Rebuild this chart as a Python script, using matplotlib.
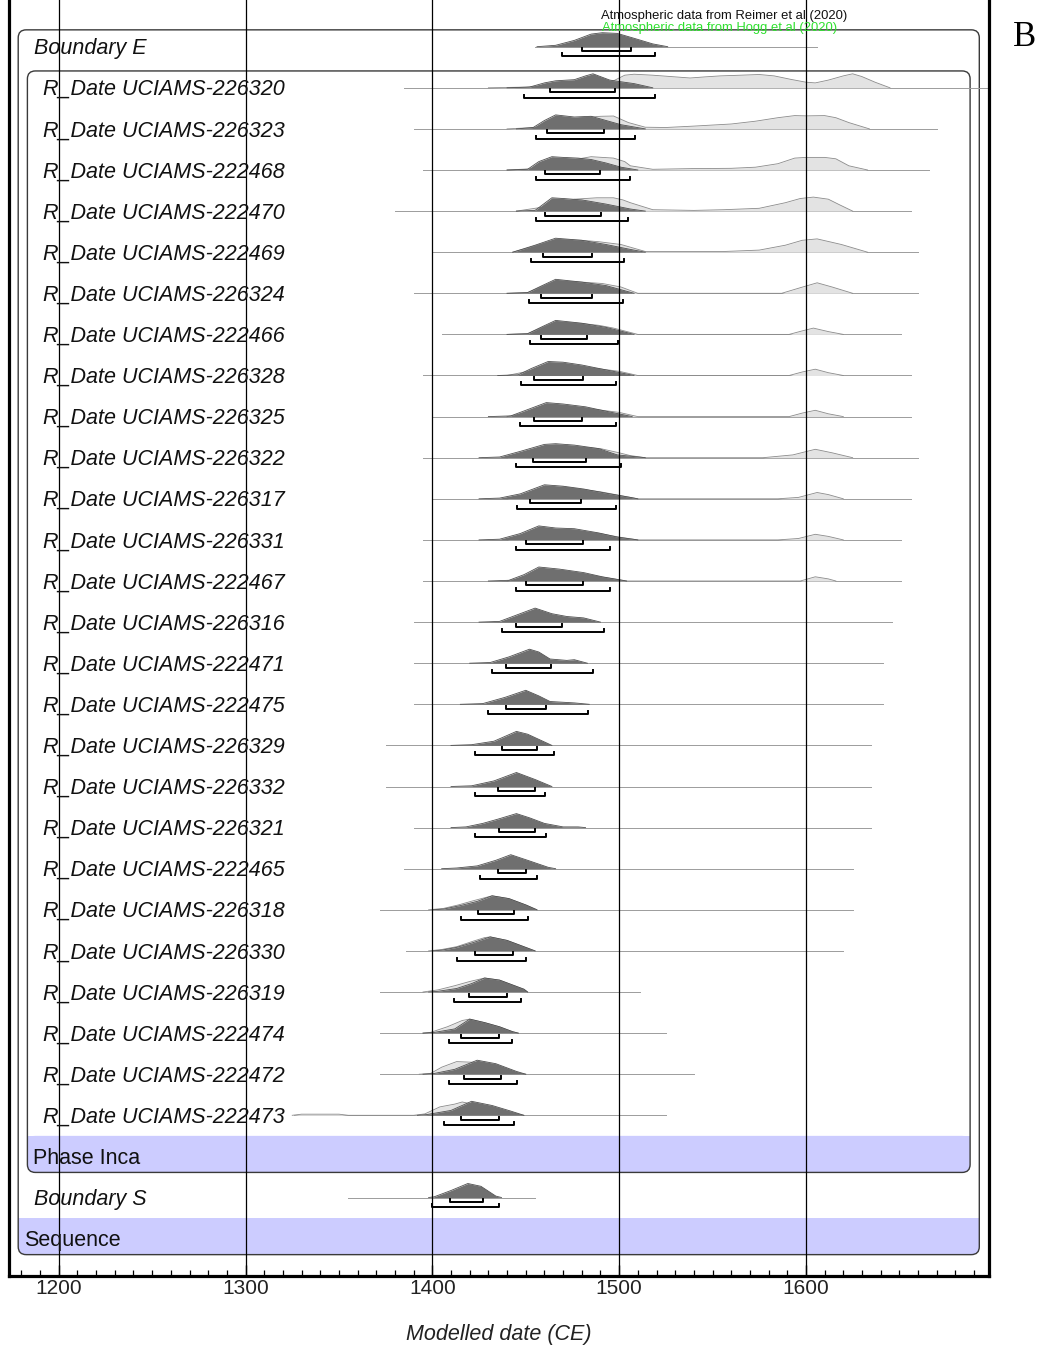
import numpy as np
import matplotlib
matplotlib.use("Agg")
import matplotlib.pyplot as plt
from matplotlib.patches import FancyBboxPatch, Rectangle
from matplotlib.ticker import MultipleLocator

plt.rcParams['font.family'] = ['Liberation Sans', 'DejaVu Sans']

# rows from top to bottom
labels = ["Boundary E",
          "R_Date UCIAMS-226320", "R_Date UCIAMS-226323", "R_Date UCIAMS-222468",
          "R_Date UCIAMS-222470", "R_Date UCIAMS-222469", "R_Date UCIAMS-226324",
          "R_Date UCIAMS-222466", "R_Date UCIAMS-226328", "R_Date UCIAMS-226325",
          "R_Date UCIAMS-226322", "R_Date UCIAMS-226317", "R_Date UCIAMS-226331",
          "R_Date UCIAMS-222467", "R_Date UCIAMS-226316", "R_Date UCIAMS-222471",
          "R_Date UCIAMS-222475", "R_Date UCIAMS-226329", "R_Date UCIAMS-226332",
          "R_Date UCIAMS-226321", "R_Date UCIAMS-222465", "R_Date UCIAMS-226318",
          "R_Date UCIAMS-226330", "R_Date UCIAMS-226319", "R_Date UCIAMS-222474",
          "R_Date UCIAMS-222472", "R_Date UCIAMS-222473",
          "Phase Inca", "Boundary S", "Sequence"]
depth = [1] + [2] * 26 + [1, 1, 0]          # nesting level of each row
italic = [True] * 27 + [False, True, False]

# rows carrying a distribution (all but the two group rows)
dist_rows = list(range(27)) + [28]

# extent of the thin base line (years)
line_lo = [1455, 1385, 1390, 1395, 1380, 1400, 1390, 1405, 1395, 1400, 1395, 1400, 1395, 1395,
           1390, 1390, 1390, 1375, 1375, 1390, 1385, 1372, 1386, 1372, 1372, 1372, 1326, 1355]
line_hi = [1606, 1700, 1670, 1666, 1656, 1660, 1660, 1651, 1656, 1656, 1660, 1656, 1651, 1651,
           1646, 1641, 1641, 1635, 1635, 1635, 1625, 1625, 1620, 1511, 1525, 1540, 1525, 1455]

# 68.3 % and 95.4 % ranges
r68 = [(1480, 1506.5), (1463, 1498), (1461.5, 1492), (1460.5, 1489.5), (1460.5, 1490.5),
       (1459, 1485.5), (1458, 1485.5), (1458, 1483), (1454.5, 1480.5), (1454.5, 1480),
       (1454, 1482), (1452.5, 1479.5), (1450, 1480.5), (1450, 1480.5), (1445, 1469.5),
       (1439.5, 1463.5), (1439.5, 1461), (1437.5, 1456), (1435, 1455), (1435.5, 1455),
       (1435, 1450), (1424.5, 1443.5), (1423, 1443), (1419.5, 1440), (1415.5, 1435.5),
       (1417, 1437), (1415.5, 1435.5), (1409.5, 1427)]
r95 = [(1469.5, 1519), (1449, 1519), (1455.5, 1508.5), (1455.5, 1506), (1455.5, 1505),
       (1453, 1502.5), (1451.5, 1502), (1452.5, 1499.5), (1447.5, 1498.5), (1447, 1498.5),
       (1445, 1501), (1445.5, 1498.5), (1445, 1495), (1445, 1495), (1437.5, 1492),
       (1432, 1486), (1430, 1483.5), (1423, 1465), (1423, 1460.5), (1423, 1461),
       (1425.5, 1456), (1415.5, 1451), (1413, 1450), (1411.5, 1447.5), (1409, 1442.5),
       (1409, 1445.5), (1406.5, 1443.5), (1400, 1435.5)]

# posterior (modelled) density, relative height
post_x = [
    [1456, 1466, 1476, 1485, 1491, 1499, 1508, 1518, 1526],
    [1440, 1452, 1460, 1466, 1476, 1482, 1486, 1491, 1495, 1500, 1508, 1518],
    [1445, 1454, 1460, 1466, 1476, 1485, 1493, 1501, 1514],
    [1440, 1451, 1457, 1464, 1470, 1478, 1485, 1493, 1501, 1510],
    [1445, 1455, 1464, 1470, 1480, 1493, 1506, 1514],
    [1443, 1455, 1466, 1480, 1493, 1506, 1514],
    [1440, 1451, 1458, 1466, 1480, 1493, 1508],
    [1440, 1451, 1458, 1466, 1480, 1493, 1508],
    [1435, 1446, 1453, 1462, 1470, 1480, 1493, 1508],
    [1430, 1442, 1451, 1461, 1470, 1482, 1496, 1507],
    [1425, 1436, 1447, 1460, 1466, 1476, 1489, 1499, 1514],
    [1425, 1436, 1447, 1460, 1470, 1481, 1493, 1506, 1510],
    [1425, 1436, 1447, 1457, 1466, 1476, 1489, 1499, 1510],
    [1430, 1441, 1449, 1457, 1468, 1481, 1491, 1504],
    [1425, 1436, 1445, 1455, 1464, 1472, 1481, 1490],
    [1420, 1431, 1441, 1452, 1457, 1463, 1472, 1476, 1483],
    [1415, 1427, 1439, 1450, 1457, 1463, 1476, 1484],
    [1410, 1421, 1433, 1445, 1451, 1464],
    [1410, 1421, 1433, 1445, 1455, 1464],
    [1410, 1418, 1427, 1435, 1445, 1452, 1460, 1470, 1478, 1482],
    [1405, 1413, 1424, 1434, 1442, 1451, 1462, 1466],
    [1400, 1406, 1415, 1424, 1432, 1441, 1450, 1456],
    [1400, 1405, 1413, 1422, 1431, 1440, 1449, 1455],
    [1398, 1403, 1413, 1421, 1428, 1436, 1449, 1451],
    [1395, 1401, 1412, 1420, 1428, 1436, 1443, 1446],
    [1395, 1401, 1412, 1424, 1434, 1445, 1450],
    [1392, 1397, 1410, 1421, 1432, 1442, 1449],
    [1398, 1401, 1410, 1419, 1426, 1434, 1437],
]
post_h = [
    [0, 0.1, 0.45, 0.9, 1.0, 0.95, 0.6, 0.2, 0],
    [0, 0.05, 0.35, 0.5, 0.58, 0.85, 1.0, 0.75, 0.55, 0.45, 0.3, 0],
    [0, 0.1, 0.6, 1.0, 0.85, 0.9, 0.6, 0.3, 0],
    [0, 0.05, 0.6, 0.95, 0.9, 0.85, 0.75, 0.5, 0.2, 0],
    [0, 0.05, 0.95, 0.9, 0.8, 0.5, 0.15, 0],
    [0, 0.5, 1.0, 0.85, 0.55, 0.2, 0],
    [0, 0.05, 0.5, 1.0, 0.8, 0.55, 0],
    [0, 0.05, 0.5, 1.0, 0.8, 0.5, 0],
    [0, 0.05, 0.5, 1.0, 0.95, 0.75, 0.4, 0],
    [0, 0.05, 0.5, 1.0, 0.9, 0.7, 0.3, 0],
    [0, 0.05, 0.45, 0.95, 1.0, 0.9, 0.65, 0.2, 0],
    [0, 0.05, 0.35, 1.0, 0.9, 0.7, 0.4, 0.1, 0],
    [0, 0.05, 0.45, 1.0, 0.85, 0.8, 0.5, 0.2, 0],
    [0, 0.05, 0.45, 1.0, 0.85, 0.6, 0.3, 0],
    [0, 0.05, 0.5, 1.0, 0.6, 0.4, 0.3, 0],
    [0, 0.05, 0.45, 1.0, 0.8, 0.3, 0.2, 0.25, 0],
    [0, 0.05, 0.5, 1.0, 0.6, 0.2, 0.1, 0],
    [0, 0.05, 0.3, 1.0, 0.8, 0],
    [0, 0.05, 0.4, 1.0, 0.5, 0],
    [0, 0.05, 0.3, 0.6, 1.0, 0.7, 0.3, 0.05, 0.05, 0],
    [0, 0.05, 0.2, 0.6, 1.0, 0.6, 0.1, 0],
    [0, 0.05, 0.3, 0.6, 1.0, 0.8, 0.35, 0],
    [0, 0.05, 0.25, 0.6, 1.0, 0.75, 0.3, 0],
    [0, 0.05, 0.25, 0.6, 1.0, 0.85, 0.2, 0],
    [0, 0.05, 0.3, 1.0, 0.75, 0.45, 0.1, 0],
    [0, 0.05, 0.35, 1.0, 0.75, 0.2, 0],
    [0, 0.05, 0.35, 1.0, 0.7, 0.3, 0],
    [0, 0.05, 0.5, 1.0, 0.8, 0.1, 0],
]

# unmodelled likelihood, relative height (empty where fully hidden)
like_x = [
    [],
    [1430, 1450, 1470, 1490, 1497, 1503, 1508, 1518, 1530, 1538, 1546, 1554, 1565, 1575,
     1583, 1592, 1600, 1605, 1612, 1620, 1625, 1630, 1637, 1645],
    [1440, 1455, 1466, 1480, 1490, 1497, 1505, 1514, 1525, 1540, 1560, 1573, 1585, 1594,
     1600, 1610, 1616, 1623, 1634],
    [1440, 1455, 1470, 1485, 1497, 1503, 1506, 1518, 1539, 1560, 1573, 1585, 1594, 1600,
     1610, 1616, 1623, 1633],
    [1445, 1460, 1476, 1488, 1497, 1502, 1506, 1518, 1540, 1556, 1575, 1589, 1597, 1604,
     1612, 1618, 1625],
    [1443, 1455, 1466, 1480, 1489, 1501, 1514, 1556, 1575, 1589, 1598, 1606, 1619, 1633],
    [1440, 1451, 1466, 1480, 1491, 1501, 1510, 1587, 1597, 1606, 1614, 1625],
    [1440, 1451, 1466, 1480, 1489, 1497, 1510, 1591, 1598, 1604, 1612, 1620],
    [1440, 1470, 1500, 1510, 1591, 1598, 1605, 1612, 1620],
    [1440, 1470, 1500, 1510, 1591, 1598, 1605, 1612, 1620],
    [1440, 1470, 1490, 1500, 1506, 1514, 1577, 1593, 1605, 1614, 1625],
    [1440, 1470, 1490, 1500, 1510, 1585, 1596, 1606, 1612, 1620],
    [1440, 1470, 1490, 1500, 1510, 1585, 1596, 1605, 1612, 1620],
    [1440, 1470, 1490, 1504, 1597, 1605, 1612, 1616],
    [], [], [], [], [], [], [],
    [1398, 1406, 1414, 1422, 1432, 1441, 1450, 1456],
    [1398, 1405, 1413, 1422, 1428, 1431, 1440, 1449, 1455],
    [1395, 1403, 1412, 1420, 1428, 1436, 1449, 1451],
    [1395, 1399, 1408, 1416, 1420, 1428, 1436, 1443, 1446],
    [1393, 1399, 1405, 1413, 1422, 1434, 1445, 1450],
    [1325, 1330, 1350, 1355, 1390, 1396, 1404, 1412, 1416, 1425, 1442, 1449],
    [],
]
like_h = [
    [],
    [0, 0.05, 0.25, 0.35, 0.5, 0.9, 0.97, 0.9, 0.78, 0.7, 0.78, 0.85, 0.9, 0.95,
     0.85, 0.6, 0.4, 0.35, 0.55, 0.85, 1.0, 0.8, 0.4, 0],
    [0, 0.1, 0.5, 0.8, 0.9, 0.92, 0.45, 0.12, 0.1, 0.2, 0.35, 0.55, 0.8, 0.95,
     0.93, 0.95, 0.8, 0.45, 0],
    [0, 0.1, 0.6, 0.95, 0.85, 0.6, 0.3, 0.05, 0.1, 0.12, 0.2, 0.45, 0.85, 0.9,
     0.9, 0.8, 0.3, 0],
    [0, 0.3, 0.85, 0.95, 0.95, 0.8, 0.6, 0.1, 0.05, 0.1, 0.2, 0.6, 0.9, 1.0,
     0.85, 0.45, 0],
    [0, 0.45, 0.9, 0.85, 0.75, 0.55, 0.05, 0.05, 0.15, 0.5, 0.85, 0.95, 0.55, 0],
    [0, 0.05, 0.9, 0.8, 0.7, 0.45, 0, 0, 0.4, 0.75, 0.45, 0],
    [0, 0.05, 0.9, 0.78, 0.65, 0.45, 0, 0, 0.25, 0.45, 0.2, 0],
    [0, 0.8, 0.3, 0, 0, 0.25, 0.45, 0.2, 0],
    [0, 0.8, 0.3, 0, 0, 0.25, 0.45, 0.2, 0],
    [0, 0.85, 0.65, 0.35, 0.15, 0, 0, 0.2, 0.6, 0.35, 0],
    [0, 0.85, 0.5, 0.25, 0, 0, 0.1, 0.45, 0.3, 0],
    [0, 0.75, 0.45, 0.2, 0, 0, 0.1, 0.4, 0.25, 0],
    [0, 0.75, 0.3, 0, 0, 0.3, 0.15, 0],
    [], [], [], [], [], [], [],
    [0, 0.1, 0.35, 0.65, 1.0, 0.8, 0.35, 0],
    [0, 0.1, 0.3, 0.7, 0.95, 1.0, 0.75, 0.3, 0],
    [0, 0.15, 0.45, 0.75, 1.0, 0.85, 0.2, 0],
    [0, 0.05, 0.45, 0.9, 1.0, 0.75, 0.45, 0.1, 0],
    [0, 0.05, 0.5, 0.9, 0.85, 0.6, 0.1, 0],
    [0, 0.08, 0.08, 0, 0, 0.1, 0.6, 0.8, 0.95, 0.7, 0.2, 0],
    [],
]

# groups: (label row of the group, first row inside its box)
groups = [(29, 0), (27, 1)]

x_lo, x_hi = 1173.1, 1698.0
W_PX, H_PX = 1040, 1346
ax_left, ax_right, ax_bottom = 8.5, 989.0, 1276.0
row_px = 41.1
row0_px = 46.7

fig = plt.figure(figsize=(W_PX / 100, H_PX / 100), dpi=100)
ax = fig.add_axes([ax_left / W_PX, 1 - ax_bottom / H_PX,
                   (ax_right - ax_left) / W_PX, ax_bottom / H_PX])
ax.set_xlim(x_lo, x_hi)
ax.set_ylim((ax_bottom - row0_px) / row_px, -row0_px / row_px)

yr = (x_hi - x_lo) / (ax_right - ax_left)   # years per pixel
rw = 1 / row_px                             # rows per pixel
H = 14 * rw                                 # full density height

# nested boxes with a tinted label band at the bottom
for lab_row, first in groups:
    d = depth[lab_row]
    inset = (9.7 + 9.2 * d) * yr
    bx0, bx1 = x_lo + inset, x_hi - inset
    top, bot = first - 0.41, lab_row + 0.39
    rs = 8 * yr
    asp = (8 * rw) / rs
    ax.add_patch(FancyBboxPatch((bx0, lab_row - 0.5), bx1 - bx0, bot - (lab_row - 0.5),
                                boxstyle=f"round,pad=0,rounding_size={rs}",
                                mutation_aspect=asp, fc='#ccccff', ec='none', zorder=0.5))
    ax.add_patch(Rectangle((bx0, lab_row - 0.5), bx1 - bx0, 0.5,
                           fc='#ccccff', ec='none', zorder=0.5))
    ax.add_patch(FancyBboxPatch((bx0, top), bx1 - bx0, bot - top,
                                boxstyle=f"round,pad=0,rounding_size={rs}",
                                mutation_aspect=asp, fc='none', ec='#3a3a3a',
                                lw=1.0, zorder=1))

# row labels
for i, lab in enumerate(labels):
    is_group = i in [g[0] for g in groups]
    d = depth[i]
    if is_group:
        lx = x_lo + (9.7 + 9.2 * d + 6) * yr
    else:
        lx = x_lo + (9.7 + 9.2 * (d - 1) + 16) * yr
    ax.text(lx, i + 7.3 * rw, lab, fontsize=15.5, va='baseline', ha='left',
            style='italic' if italic[i] else 'normal', color='#111111', zorder=7)

# distributions and ranges
for k, r in enumerate(dist_rows):
    ax.plot([line_lo[k], line_hi[k]], [r, r], color='#9c9c9c', lw=0.7, zorder=2)
    if like_x[k]:
        lx = np.array(like_x[k])
        lh = np.array(like_h[k])
        ax.fill_between(lx, r, r - H * lh, color='#e3e3e3', lw=0, zorder=3)
        ax.plot(lx, r - H * lh, color='#8a8a8a', lw=0.6, zorder=3)
    px = np.array(post_x[k])
    ph = np.array(post_h[k])
    ax.fill_between(px, r, r - H * ph, color='#6f6f6f', lw=0, zorder=4)
    ax.plot(px, r - H * ph, color='#4f4f4f', lw=0.6, zorder=4)
    for (lo, hi), off in [(r68[k], 4.5), (r95[k], 9.8)]:
        yb = r + off * rw
        ax.plot([lo, lo, hi, hi], [yb - 3 * rw, yb, yb, yb - 3 * rw],
                color='black', lw=1.4, zorder=5)

# century lines
for c in range(1200, 1700, 100):
    ax.axvline(c, color='black', lw=0.9, zorder=6)

ax.xaxis.set_major_locator(MultipleLocator(100))
ax.xaxis.set_minor_locator(MultipleLocator(10))
ax.tick_params(axis='x', which='major', direction='in', length=8, width=1,
               labelsize=15, pad=2, labelcolor='#222222')
ax.tick_params(axis='x', which='minor', direction='in', length=4, width=0.9)
ax.set_yticks([])
for s in ['left', 'right', 'bottom']:
    ax.spines[s].set_linewidth(2.3)
ax.spines['top'].set_visible(False)
ax.set_xlabel('Modelled date (CE)', fontsize=15.5, style='italic', labelpad=19,
              color='#222222')

fig.text(724.5 / W_PX, 1 - 16 / H_PX, 'Atmospheric data from Reimer et al (2020)',
         fontsize=9.4, ha='center', va='center', color='#111111')
fig.text(719.5 / W_PX, 1 - 28 / H_PX, 'Atmospheric data from Hogg et al (2020)',
         fontsize=9.4, ha='center', va='center', color='#2fe02f')
fig.text(1025 / W_PX, 1 - 37 / H_PX, 'B', fontsize=25, ha='center', va='center',
         family=['Liberation Serif', 'DejaVu Serif'], color='black')

fig.savefig('out.png', dpi=100)
